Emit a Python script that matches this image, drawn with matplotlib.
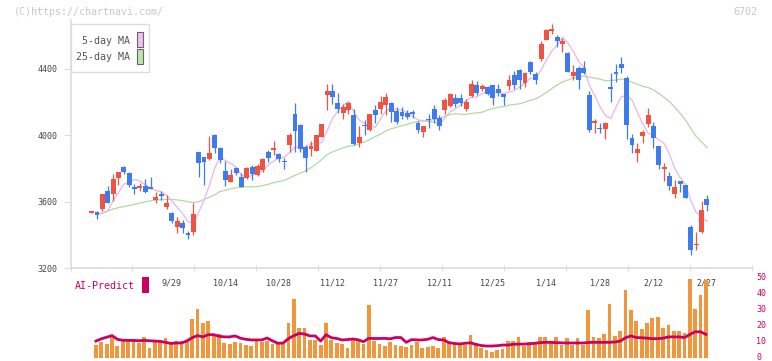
import numpy as np
import pandas as pd
import matplotlib
matplotlib.use("Agg")
import matplotlib.pyplot as plt
from matplotlib.patches import Rectangle
from matplotlib.transforms import ScaledTranslation

# daily candles, oldest first
opens = [3535, 3540, 3555, 3665, 3647, 3745, 3809, 3775, 3690, 3685,
         3697, 3690, 3611, 3647, 3571, 3535, 3451, 3474, 3414, 3420,
         3900, 3868, 3856, 4002, 3927, 3785, 3721, 3805, 3751, 3745,
         3811, 3761, 3791, 3901, 3911, 3890, 3845, 3942, 4128, 4062,
         3928, 3917, 3907, 3992, 4242, 4268, 4198, 4135, 4152, 4122,
         3954, 4062, 4032, 4152, 4158, 4186, 4196, 4148, 4142, 4138,
         4142, 4076, 4022, 4100, 4162, 4102, 4152, 4176, 4228, 4228,
         4162, 4238, 4306, 4282, 4290, 4302, 4282, 4248, 4298, 4362,
         4392, 4316, 4443, 4368, 4463, 4577, 4629, 4591, 4553, 4498,
         4358, 4406, 4406, 4242, 4076, 4044, 4040, 4284, 4380, 4428,
         4344, 3984, 3896, 3996, 4068, 4056, 3935, 3797, 3755, 3647,
         3725, 3701, 3450, 3338, 3418, 3617]
highs = [3540, 3546, 3650, 3695, 3765, 3782, 3815, 3778, 3705, 3715,
         3737, 3751, 3659, 3668, 3641, 3540, 3510, 3490, 3424, 3595,
         3902, 3871, 3996, 4008, 3930, 3847, 3795, 3811, 3771, 3811,
         3821, 3827, 3862, 3911, 3966, 3895, 3862, 4016, 4194, 4068,
         3941, 3968, 4005, 4070, 4308, 4308, 4256, 4188, 4202, 4162,
         4056, 4092, 4130, 4182, 4240, 4256, 4200, 4172, 4172, 4152,
         4152, 4088, 4058, 4128, 4182, 4122, 4228, 4258, 4252, 4252,
         4222, 4333, 4326, 4312, 4298, 4306, 4312, 4250, 4362, 4386,
         4402, 4382, 4449, 4380, 4567, 4639, 4669, 4607, 4587, 4500,
         4426, 4418, 4446, 4266, 4098, 4076, 4082, 4376, 4432, 4473,
         4356, 4008, 3952, 4032, 4168, 4080, 3938, 3835, 3779, 3731,
         3727, 3703, 3460, 3420, 3605, 3641]
lows = [3533, 3495, 3546, 3592, 3607, 3701, 3765, 3691, 3650, 3665,
        3651, 3677, 3595, 3611, 3559, 3471, 3414, 3414, 3378, 3400,
        3751, 3701, 3851, 3892, 3835, 3695, 3719, 3761, 3687, 3739,
        3731, 3755, 3781, 3841, 3881, 3841, 3797, 3901, 3901, 3901,
        3781, 3877, 3905, 3990, 4156, 4188, 4135, 4098, 4132, 3942,
        3930, 4002, 4028, 4072, 4132, 4122, 4080, 4068, 4100, 4098,
        4102, 4016, 3992, 4042, 4076, 4032, 4128, 4172, 4172, 4176,
        4148, 4230, 4242, 4266, 4242, 4182, 4238, 4186, 4272, 4278,
        4278, 4292, 4368, 4310, 4449, 4573, 4613, 4533, 4503, 4380,
        4333, 4278, 4370, 4022, 4016, 4012, 3980, 4202, 4322, 4373,
        3980, 3896, 3841, 3956, 4052, 3923, 3799, 3727, 3671, 3625,
        3661, 3623, 3280, 3310, 3411, 3545]
closes = [3538, 3520, 3647, 3595, 3735, 3780, 3777, 3703, 3680, 3695,
          3661, 3680, 3629, 3635, 3595, 3487, 3485, 3444, 3398, 3527,
          3835, 3841, 3892, 3925, 3851, 3731, 3761, 3773, 3691, 3803,
          3767, 3817, 3859, 3865, 3923, 3858, 3839, 4002, 4026, 3918,
          3865, 3935, 4002, 4068, 4268, 4232, 4160, 4173, 4196, 3947,
          3988, 4055, 4128, 4122, 4202, 4230, 4142, 4080, 4118, 4108,
          4128, 4032, 4056, 4092, 4096, 4058, 4216, 4248, 4192, 4198,
          4204, 4308, 4256, 4298, 4250, 4226, 4258, 4232, 4333, 4302,
          4333, 4376, 4382, 4333, 4549, 4633, 4639, 4567, 4567, 4382,
          4382, 4336, 4376, 4032, 4086, 4038, 4076, 4280, 4370, 4406,
          4063, 3944, 3920, 4020, 4122, 3984, 3821, 3811, 3697, 3691,
          3709, 3625, 3310, 3348, 3551, 3581]

# moving averages before enough history is on the chart
ma5_head = [3527, 3532, 3545]
ma25_head = [3525, 3533, 3545, 3557, 3565, 3572, 3578, 3585, 3592, 3600,
             3606, 3611, 3613, 3615, 3615, 3612, 3607, 3601, 3595, 3601,
             3615, 3628, 3643]

# lower panel, from the 2nd candle on
volume = [7.9, 9.6, 8.5, 13.4, 7.3, 10.4, 10.4, 10.4, 9.4, 12.9,
          6.0, 9.6, 9.6, 12.3, 8.5, 10.2, 10.2, 10.8, 24.2, 30.6,
          21.7, 22.9, 13.6, 14.9, 9.4, 8.5, 10.0, 9.2, 7.9, 7.5,
          10.4, 9.6, 10.4, 8.5, 8.3, 8.3, 21.7, 36.7, 18.8, 18.8,
          11.0, 11.0, 7.9, 21.7, 11.0, 9.2, 8.5, 6.0, 11.0, 10.4,
          8.5, 32.9, 10.4, 8.5, 7.3, 9.6, 8.0, 7.5, 6.9, 8.0,
          10.0, 6.3, 6.9, 7.5, 6.3, 13.2, 10.0, 9.0, 8.0, 8.0,
          14.2, 9.0, 6.0, 4.9, 3.5, 4.9, 5.4, 10.4, 10.4, 13.2,
          7.3, 9.6, 9.6, 13.2, 13.2, 9.6, 13.2, 8.0, 12.5, 8.0,
          12.5, 8.0, 29.8, 13.2, 12.5, 14.6, 33.5, 13.8, 16.7, 42.3,
          29.8, 22.9, 17.9, 21.5, 25.0, 25.6, 18.8, 20.4, 16.7, 16.7,
          15.3, 49.2, 30.6, 39.2, 48.5]
ai_predict = [10.4, 11.8, 12.8, 13.8, 11.5, 10.9, 10.8, 10.8, 10.6, 10.8,
              10.6, 10.4, 10.2, 9.6, 8.9, 9.2, 9.2, 10.5, 12.5, 13.8,
              13.0, 14.4, 14.4, 13.4, 13.0, 13.0, 13.6, 12.2, 11.5, 11.1,
              11.1, 11.1, 12.3, 10.5, 9.0, 9.2, 12.0, 13.8, 15.2, 14.8,
              13.6, 13.6, 10.4, 14.4, 12.5, 12.0, 11.1, 11.3, 11.7, 11.2,
              10.0, 12.1, 12.0, 12.0, 12.1, 11.8, 12.6, 12.6, 9.6, 11.3,
              11.1, 11.1, 11.5, 12.6, 11.3, 11.1, 9.4, 8.9, 8.6, 9.0,
              9.3, 8.3, 7.6, 7.3, 7.3, 7.5, 7.9, 7.9, 8.4, 8.5,
              8.5, 8.7, 9.0, 9.4, 9.6, 9.6, 9.4, 9.3, 9.2, 9.2,
              9.2, 9.2, 9.5, 9.6, 9.6, 9.6, 9.6, 9.8, 10.4, 12.5,
              13.6, 12.6, 12.5, 12.2, 11.9, 11.9, 12.2, 13.0, 13.0, 13.0,
              12.6, 14.5, 16.2, 16.2, 14.6]

date_labels = ["9/29", "10/14", "10/28", "11/12", "11/27", "12/11",
               "12/25", "1/14", "1/28", "2/12", "2/27"]
date_idx = [15, 25, 35, 45, 55, 65, 75, 85, 95, 105, 115]

RED = "#ef5443"
BLUE = "#3f7aee"
CRIMSON = "#cc0060"
GREY = "#dddddd"

plt.rcParams['font.family'] = ['DejaVu Sans Mono']

W, H = 772, 361
fig = plt.figure(figsize=(W / 100, H / 100), dpi=100)


def box(l, t, r, b):
    return [l / W, 1 - b / H, (r - l) / W, (b - t) / H]


ax = fig.add_axes(box(70.5, 20, 752.3, 268.3))
ax2 = fig.add_axes(box(70.5, 277.7, 752.3, 357.7), sharex=ax)

o = np.array(opens, float)
h = np.array(highs, float)
lo = np.array(lows, float)
c = np.array(closes, float)
k = np.arange(len(c))

s = pd.Series(c)
ma5 = s.rolling(5).mean().to_numpy()
ma25 = s.rolling(25).mean().to_numpy()
ma5[1:1 + len(ma5_head)] = ma5_head
ma25[1:1 + len(ma25_head)] = ma25_head

ax.plot(k[1:], ma25[1:], color="#b3d9a2", lw=0.9, zorder=1)
ax.plot(k[1:], ma5[1:], color="#e9b5ea", lw=0.9, zorder=1)

cols = np.where(c >= o, RED, BLUE)
ax.vlines(k, lo, h, colors=cols, lw=0.9, zorder=2)
body_h = np.maximum(np.abs(c - o), 9)
ax.bar(k, body_h, bottom=np.minimum(o, c), width=0.92, color=cols, zorder=3)

xlim = (-3.96, 123.48)
ax.set_xlim(*xlim)
ax.set_ylim(3200, 3200 + 248.3 * 6.021)
ax.set_yticks([3200, 3600, 4000, 4400])
ax.set_xticks(np.linspace(xlim[0], xlim[1], 12))
for sp in ["top", "right"]:
    ax.spines[sp].set_visible(False)
for sp in ["left", "bottom"]:
    ax.spines[sp].set_color(GREY)
    ax.spines[sp].set_linewidth(1.2)
ax.tick_params(axis="x", direction="inout", length=5, color=GREY, labelbottom=False)
ax.tick_params(axis="y", length=5, color=GREY, labelsize=6, labelcolor="#444444", pad=4.5)

# lower panel
kk = k[1:]
ax2.bar(kk - 0.2, volume, width=0.7, color="#f0973e", zorder=2)
ax2.plot(kk - 0.2, ai_predict, color=CRIMSON, lw=2.0, zorder=3)
for i, lab in zip(date_idx, date_labels):
    ax2.text(i, 46.7, lab, ha="center", va="center", fontsize=6, color="#444444", zorder=1)
ax2.set_ylim(0, 50)
ax2.set_yticks([0, 10, 20, 30, 40, 50])
ax2.yaxis.tick_right()
ax2.tick_params(axis="y", length=0, pad=3, labelsize=6, labelcolor=CRIMSON)
ax2.tick_params(axis="x", bottom=False, labelbottom=False)
for sp in ax2.spines.values():
    sp.set_visible(False)
ax2.patch.set_visible(False)
# nudge the right-hand numbers up a hair so the "0" stays inside the image
lift = ScaledTranslation(0, 1.2 / 72, fig.dpi_scale_trans)
for lbl in ax2.get_yticklabels():
    lbl.set_transform(lbl.get_transform() + lift)

# overlay in pixel units for the legend box and captions
ov = fig.add_axes([0, 0, 1, 1], zorder=10)
ov.set_xlim(0, W)
ov.set_ylim(H, 0)
ov.axis("off")
ov.patch.set_visible(False)

ov.text(14, 12, "(C)https://chartnavi.com/", fontsize=7.2, color="#c8c8c8", va="center")
ov.text(757, 12, "6702", fontsize=7.2, color="#c8c8c8", va="center", ha="right")

ov.add_patch(Rectangle((70.5, 24), 78, 48, facecolor="white", edgecolor=GREY, lw=1))
ov.text(130, 40.5, "5-day MA", fontsize=7.2, color="#555555", ha="right", va="center")
ov.text(130, 57, "25-day MA", fontsize=7.2, color="#555555", ha="right", va="center")
ov.add_patch(Rectangle((136.5, 31.5), 6, 15, facecolor="#f0c0f0", edgecolor="#666666", lw=0.8))
ov.add_patch(Rectangle((136.5, 48.5), 6, 15, facecolor="#c2e2b2", edgecolor="#666666", lw=0.8))

ov.text(75, 286, "AI-Predict", fontsize=7.2, color=CRIMSON, va="center")
ov.add_patch(Rectangle((142, 277), 7, 16, facecolor=CRIMSON, edgecolor="none"))

fig.savefig("out.png", dpi=100)
